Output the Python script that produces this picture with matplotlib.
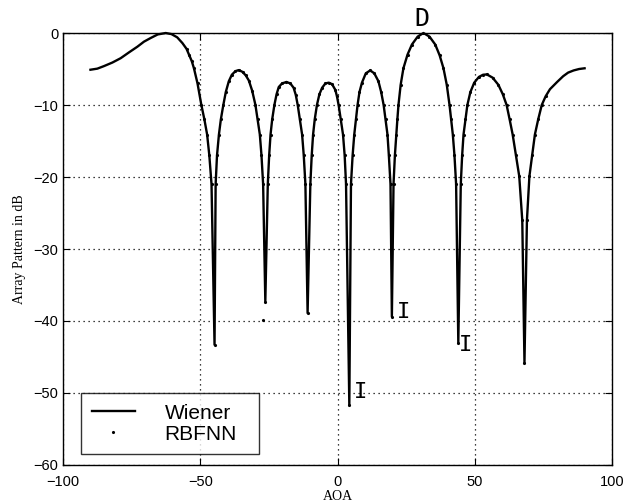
import matplotlib
matplotlib.use("Agg")
import matplotlib.pyplot as plt

# values (AOA in degrees, pattern in dB)
aoa = [-90, -87.5, -85.1, -82.0, -79.0, -76.0, -72.9, -70.5, -68.1, -65.5, -62.6, -60.5,
       -58.4, -56.5, -55.0, -54.1, -53.1, -52.3, -51.0, -49.6, -48.5, -47.5, -46.7, -45.9,
       -44.8,
       -44.4, -43.9, -43.2, -42.5, -41.6, -40.7, -39.6, -38.5, -37.2, -36.0, -34.6, -33.4,
       -32.3, -31.1, -29.9, -29.1, -28.3, -27.7, -27.1,
       -26.3,
       -25.4, -24.9, -24.4, -23.8, -23.0, -22.2, -21.4, -20.2, -18.6, -17.2, -16.0, -15.2,
       -14.5, -13.7, -12.9, -12.3, -11.7,
       -10.9,
       -9.9, -9.4, -8.9, -8.3, -7.5, -6.6, -5.6, -4.4, -3.2, -2.0, -0.8, -0.2, 0.4, 1.2,
       2.0, 2.6, 3.1,
       4.3,
       4.9, 5.5, 6.1, 6.7, 7.3, 8.0, 8.9, 10.3, 11.9, 13.4, 14.9, 15.9, 16.8, 17.5, 18.2,
       18.7, 19.3,
       19.8,
       20.4, 20.9, 21.4, 21.8, 22.2, 23.0, 24.0, 25.5, 27.1, 29.2, 31.3, 33.5, 35.6, 37.2,
       38.6, 39.8, 40.8, 41.4, 42.0, 42.6, 43.2,
       44.0,
       44.9, 45.4, 45.9, 46.6, 47.3, 48.4, 49.8, 51.5, 53.0, 54.4, 56.5, 58.6, 60.2, 61.6,
       62.7, 63.8, 65.0, 66.2, 67.3,
       68.1,
       69.0, 69.9, 70.9, 71.9, 73.1, 74.4, 75.8, 77.4, 80.0, 82.2, 84.0, 86.0, 88.0, 90.0]
wiener = [-5.1, -4.95, -4.6, -4.1, -3.5, -2.7, -1.9, -1.2, -0.7, -0.2, 0.0, -0.15,
          -0.6, -1.4, -2.2, -3.0, -3.9, -4.9, -7.0, -10.0, -12.0, -14.1, -17.0, -21.0,
          -43.3,
          -21.0, -17.0, -14.1, -12.0, -10.0, -8.2, -6.7, -5.8, -5.3, -5.15, -5.4, -5.9,
          -6.6, -8.0, -10.0, -12.0, -14.1, -17.0, -21.0,
          -37.3,
          -21.0, -17.0, -14.1, -12.0, -10.0, -8.5, -7.5, -7.0, -6.8, -7.0, -7.6, -8.6,
          -10.0, -12.0, -14.1, -17.0, -21.0,
          -38.9,
          -21.0, -17.0, -14.1, -12.0, -10.0, -8.5, -7.6, -7.0, -6.9, -7.1, -7.9, -8.8, -10.0, -12.0,
          -14.1, -17.0, -21.0,
          -51.7,
          -21.0, -17.0, -14.1, -12.0, -10.0, -8.2, -6.9, -5.6, -5.2, -5.6, -6.7, -8.2, -10.0, -12.0, -14.1,
          -17.0, -21.0,
          -39.4,
          -21.0, -17.0, -14.1, -12.0, -10.0, -7.2, -4.9, -3.0, -1.6, -0.5, 0.0, -0.5, -1.6, -3.1,
          -4.9, -7.2, -10.0, -12.0, -14.1, -17.0, -21.0,
          -43.0,
          -21.0, -17.0, -14.1, -12.0, -10.0, -8.2, -6.9, -6.1, -5.8, -5.75, -6.2, -7.2, -8.5, -10.0,
          -12.0, -14.1, -17.0, -19.9, -26.0,
          -45.8,
          -26.0, -19.9, -17.0, -14.1, -12.0, -10.0, -8.8, -7.8, -6.8, -6.0, -5.5, -5.2, -5.0, -4.9]

# RBFNN dots sit on the Wiener curve between the outer sidelobes, plus one stray dot
rbfnn_aoa = [a for a in aoa if -56 < a < 76] + [-27.0]
rbfnn = [w for a, w in zip(aoa, wiener) if -56 < a < 76] + [-39.8]

ticks_x = [-100, -50, 0, 50, 100]
ticks_y = [-60, -50, -40, -30, -20, -10, 0]

fig = plt.figure(figsize=(6.39, 5.04), dpi=100)
ax = fig.add_axes([0.0986, 0.0774, 0.8592, 0.8571])

ax.plot(aoa, wiener, color="black", lw=1.7, label="Wiener", clip_on=False)
ax.plot(rbfnn_aoa, rbfnn, ls="none", marker=".", ms=2.5, color="black", label="RBFNN")

ax.set_xlim(-100, 100)
ax.set_ylim(-60, 0)
ax.set_xticks(ticks_x)
ax.set_yticks(ticks_y)
ax.grid(True, color="black", ls=(0, (1, 3)), lw=0.9)
ax.tick_params(direction="in", top=True, right=True, length=5, labelsize=10.5)
ax.tick_params(axis="x", pad=7)
for lab in ax.get_xticklabels() + ax.get_yticklabels():
    lab.set_family("Liberation Sans")
for s in ax.spines.values():
    s.set_linewidth(1.0)

ax.set_xlabel("AOA", family="Liberation Serif", fontsize=10, labelpad=1)
ax.set_ylabel("Array Pattern in dB", family="Liberation Serif", fontsize=10, labelpad=5)

ax.text(30.9, 2.0, "D", family="DejaVu Sans Mono", fontsize=18, ha="center", va="center",
        clip_on=False)
ax.text(8.5, -49.8, "I", family="DejaVu Sans Mono", fontsize=16, ha="center", va="center")
ax.text(24.0, -38.7, "I", family="DejaVu Sans Mono", fontsize=16, ha="center", va="center")
ax.text(46.8, -43.4, "I", family="DejaVu Sans Mono", fontsize=16, ha="center", va="center")

leg = ax.legend(loc="lower left", bbox_to_anchor=(0.033, 0.025, 0.324, 0.157), mode="expand",
                prop={"family": "Liberation Sans", "size": 15}, frameon=True, fancybox=False,
                edgecolor="black", handlelength=2.1, handletextpad=1.4, borderaxespad=0,
                borderpad=0.5, labelspacing=0.1, markerscale=1.0)
leg.get_frame().set_linewidth(1.0)

fig.savefig("out.png", dpi=100)
